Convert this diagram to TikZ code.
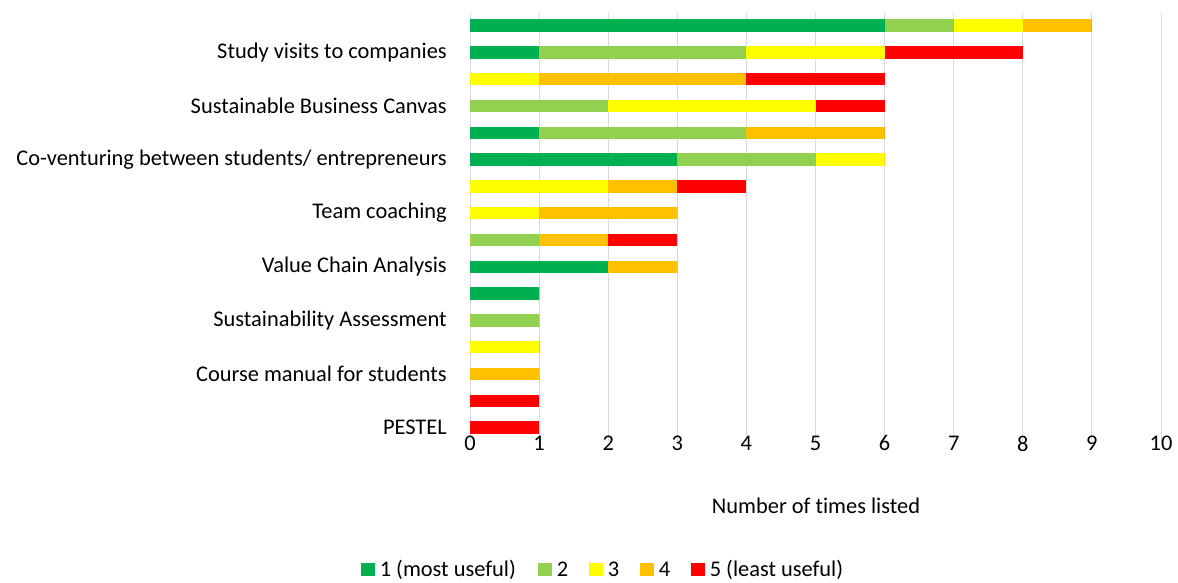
\documentclass[tikz,border=0pt]{standalone}
\usepackage{fontspec}
\setmainfont{Carlito}[Ligatures=NoCommon]
\definecolor{rankone}{HTML}{00B050}
\definecolor{ranktwo}{HTML}{92D050}
\definecolor{rankthree}{HTML}{FFFF00}
\definecolor{rankfour}{HTML}{FFC000}
\definecolor{rankfive}{HTML}{FF0000}
\definecolor{gridgray}{HTML}{D9D9D9}

\begin{document}
\begin{tikzpicture}[
  x=0.75pt, y=-0.75pt,
  declare function={xpos(\v)=470+69.1*\v;},
  declare function={ypos(\r)=25.5+26.8*(\r-1);},
  gridline/.style={gridgray, line width=0.75pt},
  chartlabel/.style={inner sep=0, font=\fontsize{16.8}{19}\selectfont},
  legendbox/.style={inner sep=0, minimum size=10pt},
  ]
\useasboundingbox (0,0) rectangle (1178,582);
% vertical grid and tick labels
\foreach \i in {0,...,10} {
  \draw[gridline] ({xpos(\i)},12.5) -- ({xpos(\i)},441.5);
  \node[chartlabel] (tick\i) at ({xpos(\i)},443.5) {\i};
}
% stacked bars: row / count of ranks 1..5
\foreach \r/\a/\b/\c/\d/\e in {1/6/1/1/1/0, 2/1/3/2/0/2, 3/0/0/1/3/2, 4/0/2/3/0/1,
    5/1/3/0/2/0, 6/3/2/1/0/0, 7/0/0/2/1/1, 8/0/0/1/2/0, 9/0/1/0/1/1, 10/2/0/0/1/0,
    11/1/0/0/0/0, 12/0/1/0/0/0, 13/0/0/1/0/0, 14/0/0/0/1/0, 15/0/0/0/0/1, 16/0/0/0/0/1} {
  \pgfmathsetmacro{\y}{ypos(\r)}
  \pgfmathsetmacro{\sa}{\a}
  \pgfmathsetmacro{\sb}{\sa+\b}
  \pgfmathsetmacro{\sc}{\sb+\c}
  \pgfmathsetmacro{\sd}{\sc+\d}
  \pgfmathsetmacro{\se}{\sd+\e}
  \fill[rankone]   ({xpos(0)},\y-6.2) rectangle ({xpos(\sa)},\y+6.2);
  \fill[ranktwo]   ({xpos(\sa)},\y-6.2) rectangle ({xpos(\sb)},\y+6.2);
  \fill[rankthree] ({xpos(\sb)},\y-6.2) rectangle ({xpos(\sc)},\y+6.2);
  \fill[rankfour]  ({xpos(\sc)},\y-6.2) rectangle ({xpos(\sd)},\y+6.2);
  \fill[rankfive]  ({xpos(\sd)},\y-6.2) rectangle ({xpos(\se)},\y+6.2);
}
% category labels (every second bar)
\foreach \r/\txt [count=\k] in {2/Study visits to companies, 4/Sustainable Business Canvas,
    6/{Co-venturing between students/ entrepreneurs}, 8/Team coaching,
    10/Value Chain Analysis, 12/Sustainability Assessment,
    14/Course manual for students, 16/PESTEL} {
  \node[chartlabel, anchor=east] (cat\k) at (447,{ypos(\r)}) {\txt};
}
\node[chartlabel] (xtitle) at (816,506) {Number of times listed};
% legend
\foreach \c/\x/\txt [count=\k] in {rankone/361/1 (most useful), ranktwo/538/2, rankthree/589/3,
    rankfour/640/4, rankfive/691/5 (least useful)} {
  \node[legendbox, fill=\c, anchor=west] (key\k) at (\x,569.5) {};
  \node[chartlabel, anchor=west] (leg\k) at ([xshift=3.5pt]key\k.east) {\txt};
}
\end{tikzpicture}
\end{document}
